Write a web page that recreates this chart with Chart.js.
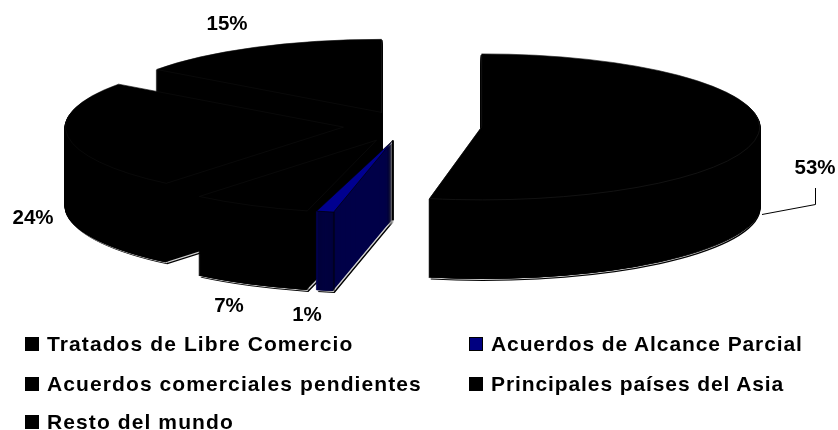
<!DOCTYPE html>
<html>
<head>
<meta charset="utf-8">
<script src="https://cdn.jsdelivr.net/npm/chart.js@4"></script>
<style>
html, body { margin: 0; padding: 0; background: #fff; }
#wrap { position: relative; width: 838px; height: 430px; overflow: hidden; }
#wrap canvas { position: absolute; left: 0; top: 0; }
.item { position: absolute; font: bold 21px "Liberation Sans", Arial, sans-serif; letter-spacing: 1.1px; color: #000; line-height: 24px; white-space: nowrap; }
.item.right { letter-spacing: 0.9px; }
.item i { position: absolute; left: -22px; top: 5px; width: 12px; height: 12px; border: 1px solid #000; }
</style>
</head>
<body>
<div id="wrap"><canvas id="chart" width="838" height="430"></canvas></div>
<script>
// Data
const categories = ['Tratados de Libre Comercio', 'Acuerdos de Alcance Parcial', 'Acuerdos comerciales pendientes', 'Principales países del Asia', 'Resto del mundo'];
const shares = [53, 1, 7, 24, 15];

// Looks
const topColors = ['#000000', '#000090', '#000000', '#000000', '#000000'];
const wallColors = ['#000000', '#000048', '#000000', '#000000', '#000000'];
const rimColors = ['#000000', '#000058', '#000000', '#000000', '#000000'];
const legendColors = ['#000000', '#000080', '#000000', '#000000', '#000000'];
const topLines = ['#1c1c1c', '#000000', '#0e0e0e', '#0e0e0e', '#0e0e0e'];
const explode = [76, 60, 65, 63, 54];
const lean = [0, -0.1, 0, 0, 0]; // fake perspective on the thin slice
const fullHighlight = [true, false, false, false, true];
const tilt = 0.2626;
const depth = 80;
const labelSpots = [[815, 168], [307, 315], [229, 306], [33, 218], [227, 24]];
const legendSpots = [[47, 332], [491, 332], [47, 372], [491, 372], [47, 410]];

// Legend as plain html
const wrap = document.getElementById('wrap');
categories.forEach((name, i) => {
    const div = document.createElement('div');
    div.className = i % 2 ? 'item right' : 'item';
    div.style.left = legendSpots[i][0] + 'px';
    div.style.top = legendSpots[i][1] + 'px';
    div.innerHTML = `<i style="background:${legendColors[i]}"></i>${name}`;
    wrap.appendChild(div);
});

// Draw one arc with other colours, keeps the resolved options intact
function drawArc(arc, ctx, fill, border, width) {
    const saved = arc.options;
    arc.options = Object.assign(Object.create(saved), { backgroundColor: fill, borderColor: border, borderWidth: width });
    arc.draw(ctx);
    arc.options = saved;
}

// Tilts the pie, pulls the slices apart and stacks copies for the side walls
const pie3d = {
    id: 'pie3d',
    beforeDatasetDraw(chart) {
        const ctx = chart.ctx;
        const arcs = chart.getDatasetMeta(0).data;
        const cx = arcs[0].x, cy = arcs[0].y;

        const apex = (i) => {
            const mid = (arcs[i].startAngle + arcs[i].endAngle) / 2;
            return [cx + Math.cos(mid) * explode[i], cy + Math.sin(mid) * explode[i] * tilt];
        };
        const place = (i, dx, dy) => {
            const [ax, ay] = apex(i);
            ctx.translate(ax + dx, ay + dy);
            ctx.transform(1, 0, lean[i], 1, 0, 0);
            ctx.scale(1, tilt);
            ctx.translate(-cx, -cy);
        };

        // back to front
        for (let i = arcs.length - 1; i >= 0; i--) {
            const arc = arcs[i];
            const stack = (from, to, dx, color) => {
                for (let d = to; d >= from; d--) {
                    ctx.save();
                    place(i, dx, d);
                    drawArc(arc, ctx, color, color, 0);
                    ctx.restore();
                }
            };
            stack(1, depth + 1, 1, '#000000');
            stack(fullHighlight[i] ? 1 : depth - 1, depth, 0, '#d0d0d0');
            stack(1, depth - 1, -1, wallColors[i]);

            // rim of the slice gets its own shade, with a dark seam beside it
            const inner = arc.innerRadius;
            arc.innerRadius = arc.outerRadius - 2;
            stack(1, depth - 1, 1, '#000000');
            stack(1, depth - 1, -1, rimColors[i]);
            arc.innerRadius = inner;

            // clean corner where the two flat walls meet
            const [ax, ay] = apex(i);
            ctx.save();
            ctx.strokeStyle = '#000000';
            ctx.lineWidth = 2;
            ctx.beginPath();
            ctx.moveTo(ax, ay);
            ctx.lineTo(ax, ay + depth);
            ctx.stroke();
            ctx.restore();

            ctx.save();
            place(i, 0, 0);
            drawArc(arc, ctx, topColors[i], topLines[i], 1);
            ctx.restore();
        }
        return false;
    },
    afterDatasetsDraw(chart) {
        const ctx = chart.ctx;
        ctx.save();
        // leader line of the big slice
        ctx.strokeStyle = '#000';
        ctx.lineWidth = 1;
        ctx.beginPath();
        ctx.moveTo(762, 214.5);
        ctx.lineTo(815.5, 204.5);
        ctx.lineTo(815.5, 188);
        ctx.stroke();
        // percent labels
        ctx.fillStyle = '#000';
        ctx.font = 'bold 20.5px "Liberation Sans", Arial, sans-serif';
        ctx.textAlign = 'center';
        ctx.textBaseline = 'middle';
        shares.forEach((v, i) => ctx.fillText(v + '%', labelSpots[i][0], labelSpots[i][1]));
        ctx.restore();
    }
};

new Chart(document.getElementById('chart'), {
    type: 'pie',
    data: {
        labels: categories,
        datasets: [{
            data: shares,
            radius: 278,
            backgroundColor: topColors,
            borderWidth: 0
        }]
    },
    plugins: [pie3d],
    options: {
        responsive: false,
        animation: false,
        events: [],
        layout: { padding: { left: 0, right: 26, top: 0, bottom: 180 } },
        plugins: { legend: { display: false }, tooltip: { enabled: false } }
    }
});
</script>
</body>
</html>
